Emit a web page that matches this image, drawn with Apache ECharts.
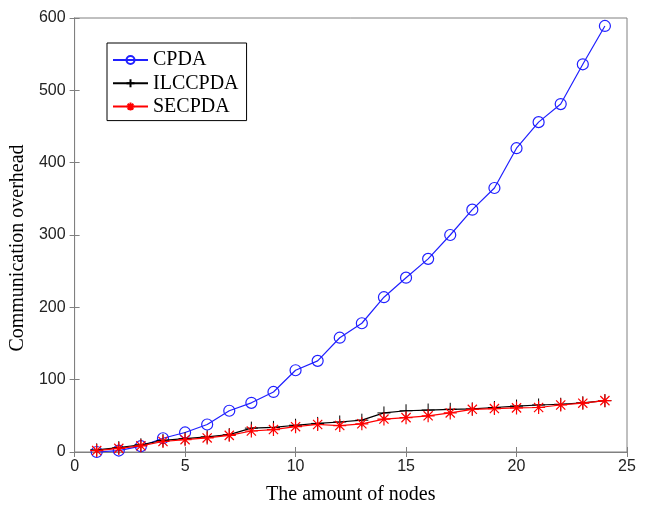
<!DOCTYPE html>
<html>
<head>
<meta charset="utf-8">
<script src="https://cdn.jsdelivr.net/npm/echarts@6/dist/echarts.min.js"></script>
<style>html,body{margin:0;padding:0;background:#fff}#c{width:648px;height:510px}</style>
</head>
<body>
<div id="c"></div>
<script>
var nodes = [1,2,3,4,5,6,7,8,9,10,11,12,13,14,15,16,17,18,19,20,21,22,23,24];
var cpda = [0,2,8,19,27,38,57,68,83,113,126,158,178,214,241,267,300,335,365,420,456,481,536,589];
var ilccpda = [3,6,10,16,18.5,21,24,33,34,37,39.5,41.5,44,54,57,58,59,59.5,61.5,63.5,65,66,68,71];
var secpda = [2,5,8.5,14.5,17,19.5,23,29,31,35,38,36.5,39,45.5,47.5,50,54,59,60,61,61.5,65,67.5,71];
var seriesNames = ['CPDA','ILCCPDA','SECPDA'];
var xTitle = 'The amount of nodes';
var yTitle = 'Communication overhead';

function pairs(v){ return v.map(function(y,i){ return [nodes[i], y]; }); }

var chart = echarts.init(document.getElementById('c'), null, {renderer:'canvas'});
var serif = '"Liberation Serif", "Times New Roman", serif';
var sans = '"Liberation Sans", Arial, sans-serif';
var axisCol = '#808080';
var plusPath = 'path://M0,-10L0,10M-10,0L10,0';
var starPath = 'path://M0,-10L0,10M-10,0L10,0M-7.07,-7.07L7.07,7.07M-7.07,7.07L7.07,-7.07';

chart.setOption({
  animation:false,
  backgroundColor:'#fff',
  grid:{left:73,right:21,top:18,bottom:57,show:true,borderColor:axisCol,borderWidth:1},
  legend:{
    orient:'vertical', left:107, top:43,
    backgroundColor:'#fff', borderColor:'#000', borderWidth:1,
    padding:[7,8,4,5], itemGap:3.3, itemWidth:35, itemHeight:10,
    textStyle:{fontFamily:serif, fontSize:20, lineHeight:20, color:'#000'},
    data:seriesNames
  },
  xAxis:[{
    type:'value', min:0, max:25, interval:5, position:'bottom',
    name:xTitle, nameLocation:'middle', nameGap:33,
    nameTextStyle:{fontFamily:serif, fontSize:20, color:'#000'},
    axisLine:{show:true,lineStyle:{color:axisCol}},
    axisTick:{show:true,inside:true,length:5,lineStyle:{color:axisCol}},
    axisLabel:{fontFamily:sans, fontSize:16, color:'#222', margin:7},
    splitLine:{show:false}
  },{
    type:'value', min:0, max:25, interval:5, position:'top',
    axisLine:{show:true,lineStyle:{color:axisCol}},
    axisTick:{show:true,inside:true,length:5,lineStyle:{color:axisCol}},
    axisLabel:{show:false}, splitLine:{show:false}
  }],
  yAxis:[{
    type:'value', min:0, max:600, interval:100, position:'left',
    name:yTitle, nameLocation:'middle', nameGap:43, nameRotate:90,
    nameTextStyle:{fontFamily:serif, fontSize:20, color:'#000', padding:[0,26,0,0]},
    axisLine:{show:true,lineStyle:{color:axisCol}},
    axisTick:{show:true,inside:true,length:5,lineStyle:{color:axisCol}},
    axisLabel:{fontFamily:sans, fontSize:16, color:'#222', margin:9},
    splitLine:{show:false}
  },{
    type:'value', min:0, max:600, interval:100, position:'right',
    axisLine:{show:true,lineStyle:{color:axisCol}},
    axisTick:{show:true,inside:true,length:5,lineStyle:{color:axisCol}},
    axisLabel:{show:false}, splitLine:{show:false}
  }],
  series:[{
    name:seriesNames[0], type:'line', data:pairs(cpda),
    symbol:'circle', symbolSize:11,
    lineStyle:{color:'#2020ff', width:1.2},
    itemStyle:{color:'rgba(255,255,255,0)', borderColor:'#2020ff', borderWidth:1.2},
    z:3
  },{
    name:seriesNames[1], type:'line', data:pairs(ilccpda),
    symbol:plusPath, symbolSize:13,
    lineStyle:{color:'#000', width:1.2},
    itemStyle:{color:'#000', borderColor:'#000', borderWidth:1},
    z:4
  },{
    name:seriesNames[2], type:'line', data:pairs(secpda),
    symbol:starPath, symbolSize:13,
    lineStyle:{color:'#ff0000', width:1.2},
    itemStyle:{color:'#ff0000', borderColor:'#ff0000', borderWidth:1.2},
    z:5
  }]
});
</script>
</body>
</html>
